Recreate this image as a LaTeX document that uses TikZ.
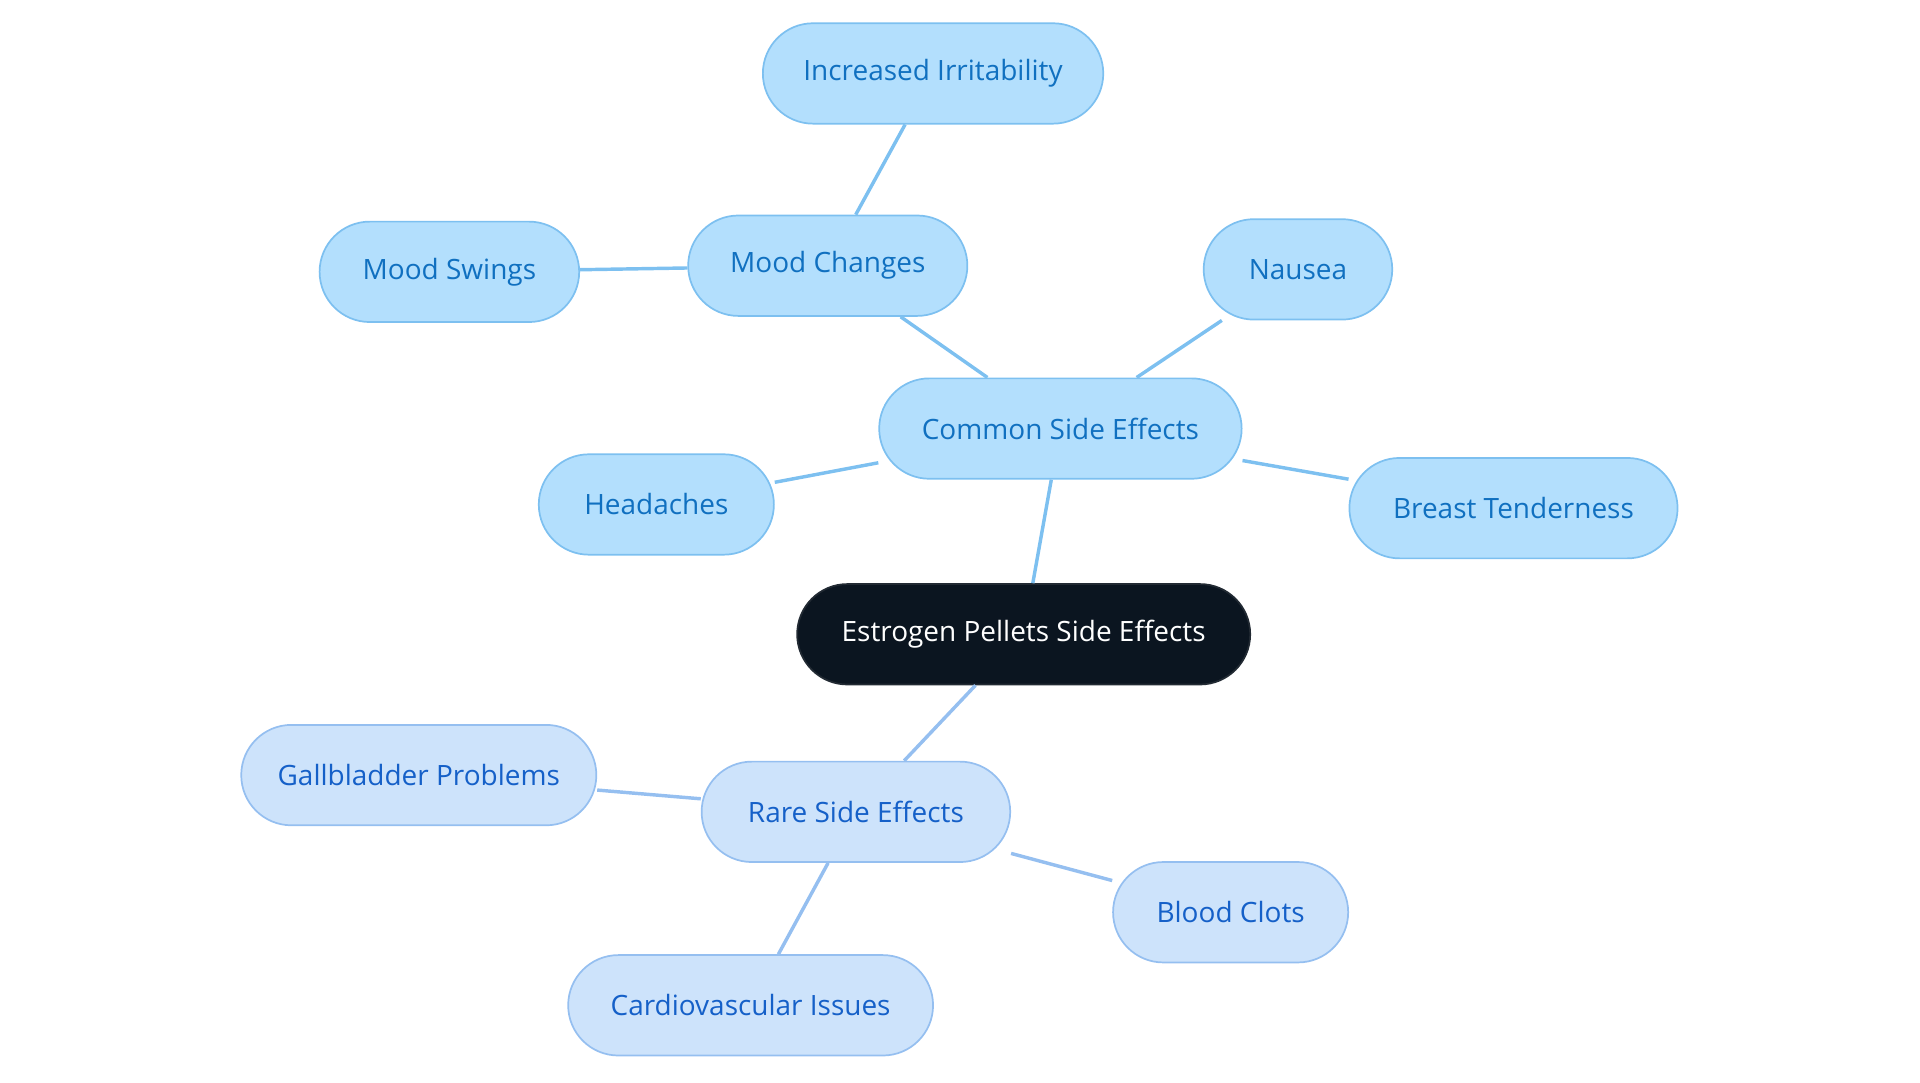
\documentclass[tikz,border=0pt]{standalone}
\usepackage{fontspec}
\setmainfont{Open Sans}
\definecolor{rootfill}{HTML}{0B1520}
\definecolor{upfill}{HTML}{B3DFFD}
\definecolor{updraw}{HTML}{7DC0F0}
\definecolor{uptext}{HTML}{1070C0}
\definecolor{lowfill}{HTML}{CDE3FB}
\definecolor{lowdraw}{HTML}{95BFF0}
\definecolor{lowtext}{HTML}{1560C8}
\begin{document}
\begin{tikzpicture}[x=0.02cm,y=-0.02cm]

\tikzstyle{pill}=[rounded corners=41*0.02cm, minimum height=82*0.02cm, font=\fontsize{13}{15}\selectfont, line width=0.8pt]
\tikzstyle{root}=[pill, fill=rootfill, draw=rootfill!80!gray, text=white]
\tikzstyle{up}=[pill, fill=upfill, draw=updraw, text=uptext]
\tikzstyle{low}=[pill, fill=lowfill, draw=lowdraw, text=lowtext]
\tikzstyle{uplink}=[draw=updraw, line width=1.6pt]
\tikzstyle{lowlink}=[draw=lowdraw, line width=1.6pt]

\useasboundingbox (0,0) rectangle (1568,884);

\node (root) [root, minimum width=370*0.02cm] at (836,518) {Estrogen Pellets Side Effects};

% common side effects
\node (common) [up, minimum width=296*0.02cm] at (866,350) {Common Side Effects};
\node (mood) [up, minimum width=228*0.02cm] at (676,217) {Mood Changes};
\node (irrit) [up, minimum width=278*0.02cm] at (762,60) {Increased Irritability};
\node (swings) [up, minimum width=212*0.02cm] at (367,222) {Mood Swings};
\node (nausea) [up, minimum width=154*0.02cm] at (1060,220) {Nausea};
\node (head) [up, minimum width=192*0.02cm] at (536,412) {Headaches};
\node (breast) [up, minimum width=268*0.02cm] at (1236,415) {Breast Tenderness};

% rare side effects
\node (rare) [low, minimum width=252*0.02cm] at (699,663) {Rare Side Effects};
\node (gall) [low, minimum width=290*0.02cm] at (342,633) {Gallbladder Problems};
\node (clots) [low, minimum width=192*0.02cm] at (1005,745) {Blood Clots};
\node (cardio) [low, minimum width=298*0.02cm] at (613,821) {Cardiovascular Issues};

\begin{scope}[on background layer/.try]
\end{scope}
\draw [uplink] (root) -- (common);
\draw [uplink] (common) -- (mood);
\draw [uplink] (mood) -- (irrit);
\draw [uplink] (mood) -- (swings);
\draw [uplink] (common) -- (nausea);
\draw [uplink] (common) -- (head);
\draw [uplink] (common) -- (breast);
\draw [lowlink] (root) -- (rare);
\draw [lowlink] (rare) -- (gall);
\draw [lowlink] (rare) -- (clots);
\draw [lowlink] (rare) -- (cardio);

\end{tikzpicture}
\end{document}
